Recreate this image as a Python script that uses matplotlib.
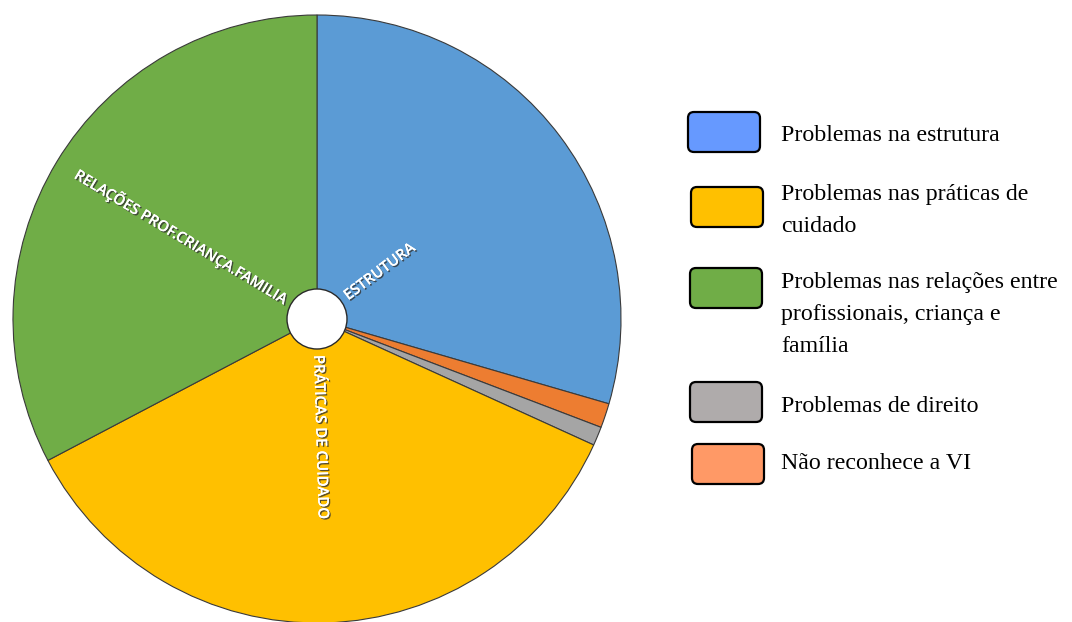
import matplotlib
matplotlib.use("Agg")
import matplotlib.pyplot as plt
import matplotlib.patheffects as pe
from matplotlib.patches import Circle, FancyBboxPatch
import numpy as np

# ---- data ----
slice_names = ["ESTRUTURA", "Não reconhece", "Direito", "PRÁTICAS DE CUIDADO",
               "RELAÇÕES PROF.CRIANÇA.FAMILIA"]
slice_values = [29.5, 1.3, 1.0, 35.5, 32.7]
slice_colors = ["#5B9BD5", "#ED7D31", "#A5A5A5", "#FFC000", "#70AD47"]
slice_show_label = [True, False, False, True, True]

legend_labels = ["Problemas na estrutura",
                 "Problemas nas práticas de\ncuidado",
                 "Problemas nas relações entre\nprofissionais, criança e\nfamília",
                 "Problemas de direito",
                 "Não reconhece a VI"]
legend_colors = ["#6699FF", "#FFC000", "#70AD47", "#AFABAB", "#FF9966"]

W, H = 1072, 622
fig = plt.figure(figsize=(W / 100, H / 100), dpi=100)
ax = fig.add_axes([0, 0, 1, 1])

cx, cy, R = 317, H - 319, 304
wedges, _ = ax.pie(slice_values, colors=slice_colors, startangle=90,
                   counterclock=False, center=(cx, cy), radius=R,
                   wedgeprops=dict(edgecolor="#3a3a3a", linewidth=0.8))
ax.add_patch(Circle((cx, cy), 30, facecolor="white", edgecolor="#2a2a2a",
                    linewidth=1.0, zorder=5))

shadow = [pe.withSimplePatchShadow(offset=(1.0, -1.0), shadow_rgbFace="#333333", alpha=0.8),
          pe.Normal()]
for w, name, show in zip(wedges, slice_names, slice_show_label):
    if not show:
        continue
    mid = (w.theta1 + w.theta2) / 2.0
    rad = np.deg2rad(mid)
    r0 = 36
    x = cx + r0 * np.cos(rad)
    y = cy + r0 * np.sin(rad)
    if np.cos(rad) >= -0.05:
        rot, ha = mid, "left"
    else:
        rot, ha = mid - 180, "right"
    ax.text(x, y, name, rotation=rot, rotation_mode="anchor", ha=ha, va="center",
            color="white", fontsize=10.8, family="Open Sans", fontweight="semibold",
            path_effects=shadow, zorder=6)

# ---- legend (custom) ----
box_x = [688, 691, 690, 690, 692]
box_top = [112, 187, 268, 382, 444]
baselines = [[141], [200, 232], [288, 320, 352], [412], [469]]
for lab, col, bx, bt, bl in zip(legend_labels, legend_colors, box_x, box_top, baselines):
    ax.add_patch(FancyBboxPatch((bx, H - bt - 40), 72, 40,
                                boxstyle="round,pad=0,rounding_size=6",
                                facecolor=col, edgecolor="black", linewidth=1.6))
    for line, b in zip(lab.split("\n"), bl):
        ax.text(781, H - b, line, ha="left", va="baseline", fontsize=17.2,
                family="Liberation Serif", color="black")

ax.set_xlim(0, W)
ax.set_ylim(0, H)
ax.set_aspect("auto")
ax.axis("off")
fig.savefig("out.png", dpi=100)
